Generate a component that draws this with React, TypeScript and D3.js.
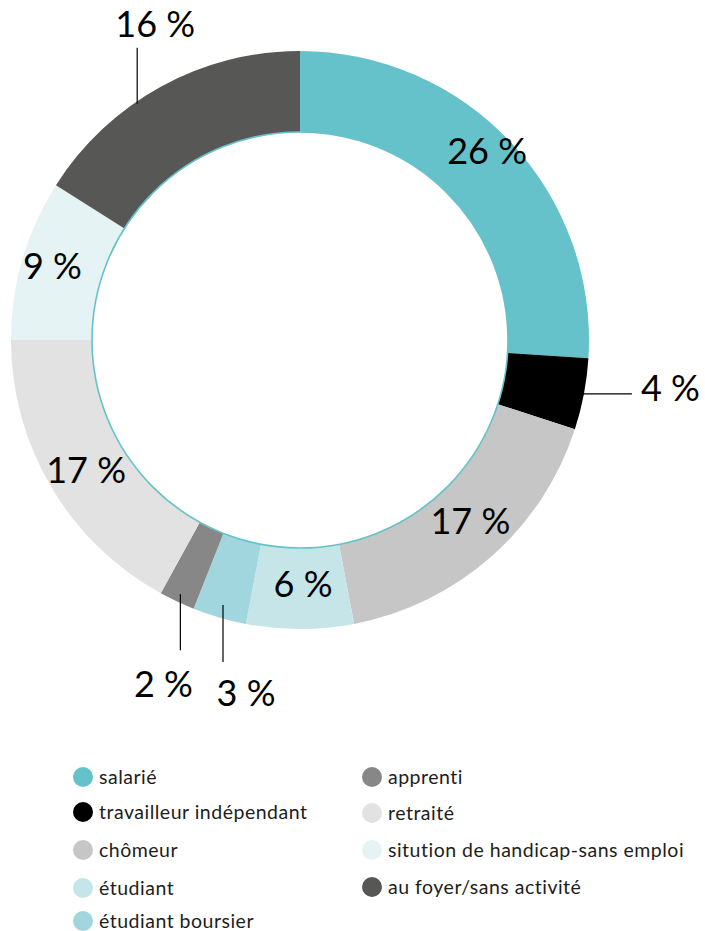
import React from "react";
import * as d3 from "d3";

const categories = [
  "salarié",
  "travailleur indépendant",
  "chômeur",
  "étudiant",
  "étudiant boursier",
  "apprenti",
  "retraité",
  "sitution de handicap-sans emploi",
  "au foyer/sans activité",
];
const values = [26, 4, 17, 6, 3, 2, 17, 9, 16];
const colors = [
  "#65c2ca",
  "#000000",
  "#c6c6c6",
  "#c5e5e8",
  "#a1d6df",
  "#878787",
  "#e2e2e2",
  "#e5f3f4",
  "#575756",
];

// layout for labels placed outside the ring (by slice index)
const outside: Record<number, { dir: string; t: number; len: number; dx: number; dy: number; anchor: string }> = {
  1: { dir: "right", t: 0.5, len: 50, dx: 9, dy: 7, anchor: "start" },
  4: { dir: "down", t: 0.5, len: 57, dx: 23, dy: 44, anchor: "middle" },
  5: { dir: "down", t: 0.5, len: 56, dx: -17, dy: 47, anchor: "middle" },
  8: { dir: "up", t: 0.4, len: 56, dx: 18, dy: -11, anchor: "middle" },
};
// small nudges of inside labels relative to the arc centroid
const insideNudge: Record<number, [number, number]> = {
  0: [6, -19],
  2: [6, -5],
  3: [3, -4],
  6: [0, 4],
  7: [-9, -5],
};
const leaderR = [287, 287, 287, 287, 276, 281, 287, 287, 287];

const legendCol1 = [0, 1, 2, 3, 4];
const legendCol2 = [5, 6, 7, 8];
const legendRowsY1 = [777, 812, 850, 888, 921];
const legendRowsY2 = [777, 813, 850, 887];

export default function App() {
  const cx = 300;
  const cy = 340;
  const outerR = 289;
  const innerR = 208;
  const pie = d3
    .pie<number>()
    .sort(null)
    .value((d) => d)
    .startAngle(0)
    .endAngle(2 * Math.PI);
  const arcs = pie(values);
  const arc = d3.arc<d3.PieArcDatum<number>>().innerRadius(innerR).outerRadius(outerR);
  const font = "Lato, 'Noto Sans', sans-serif";
  const labelSize = 36;

  return (
    <svg
      width={705}
      height={931}
      style={{ position: "absolute", left: 0, top: 0, background: "#fff" }}
    >
      <g transform={`translate(${cx},${cy})`}>
        {arcs.map((a, i) => (
          <path key={i} d={arc(a) || ""} fill={colors[i]} />
        ))}
        <circle r={innerR} fill="none" stroke="#65c2ca" strokeWidth={1.6} />
        {arcs.map((a, i) => {
          const o = outside[i];
          const label = `${values[i]} %`;
          if (!o) {
            const [x, y] = arc.centroid(a);
            const n = insideNudge[i] || [0, 0];
            return (
              <text
                key={i}
                x={x + n[0]}
                y={y + n[1] + 0.36 * labelSize}
                textAnchor="middle"
                fontFamily={font}
                fontSize={labelSize}
                fill="#000"
              >
                {label}
              </text>
            );
          }
          const ang = a.startAngle + o.t * (a.endAngle - a.startAngle);
          const r = leaderR[i];
          const x0 = r * Math.sin(ang);
          const y0 = -r * Math.cos(ang);
          let x1 = x0;
          let y1 = y0;
          if (o.dir === "right") x1 = x0 + o.len;
          if (o.dir === "down") y1 = y0 + o.len;
          if (o.dir === "up") y1 = y0 - o.len;
          return (
            <g key={i}>
              <line x1={x0} y1={y0} x2={x1} y2={y1} stroke="#000" strokeWidth={1.2} />
              <text
                x={x1 + o.dx}
                y={y1 + o.dy}
                textAnchor={o.anchor}
                fontFamily={font}
                fontSize={labelSize}
                fill="#000"
              >
                {label}
              </text>
            </g>
          );
        })}
      </g>
      <g fontFamily={font} fontSize={19.5} letterSpacing={0.5} fill="#1d1d1b">
        {legendCol1.map((idx, k) => (
          <g key={idx} transform={`translate(83,${legendRowsY1[k]})`}>
            <circle r={10} fill={colors[idx]} />
            <text x={16} y={6.5}>{categories[idx]}</text>
          </g>
        ))}
        {legendCol2.map((idx, k) => (
          <g key={idx} transform={`translate(372,${legendRowsY2[k]})`}>
            <circle r={10} fill={colors[idx]} />
            <text x={16} y={6.5}>{categories[idx]}</text>
          </g>
        ))}
      </g>
    </svg>
  );
}
